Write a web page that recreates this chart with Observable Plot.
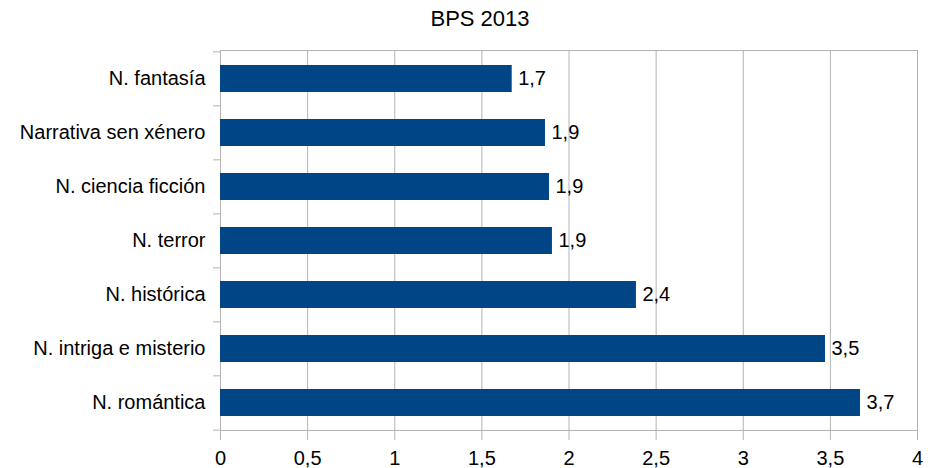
<!DOCTYPE html>
<html>
<head>
<meta charset="utf-8">
<script src="https://cdn.jsdelivr.net/npm/d3@7"></script>
<script src="https://cdn.jsdelivr.net/npm/@observablehq/plot@0.6"></script>
<style>
  body { margin: 0; background: #fff; font-family: "Liberation Sans", Arial, sans-serif; }
  #title { box-sizing: border-box; width: 936px; height: 36px; padding: 8px 0 6px 24px; line-height: 22px; text-align: center; font-size: 22px; color: #000; }
</style>
</head>
<body>
<div id="title"></div>
<div id="chart"></div>
<script>
const title = "BPS 2013";
const categories = ["N. fantasía", "Narrativa sen xénero", "N. ciencia ficción", "N. terror", "N. histórica", "N. intriga e misterio", "N. romántica"];
const values = [1.674, 1.865, 1.888, 1.905, 2.387, 3.472, 3.673];
const xTicks = [0, 0.5, 1, 1.5, 2, 2.5, 3, 3.5, 4];

document.getElementById("title").textContent = title;

const data = categories.map((c, i) => ({category: c, value: values[i]}));
const fmt = v => d3.format(".1f")(v).replace(".", ",");
const fmtTick = v => String(v).replace(".", ",");

const H = 432, mTop = 14, mBottom = 38;
const step = (H - mTop - mBottom) / categories.length;

const chart = Plot.plot({
  width: 936,
  height: H,
  marginTop: mTop,
  marginBottom: mBottom,
  marginLeft: 220,
  marginRight: 19,
  style: {fontFamily: "Liberation Sans, Arial, sans-serif", fontSize: "20px", color: "#000", background: "#fff", overflow: "visible"},
  x: {domain: [0, 4]},
  y: {domain: categories, padding: 0.5, paddingOuter: 0.25, align: 0.5},
  marks: [
    Plot.ruleX(xTicks, {stroke: "#b3b3b3", strokeOpacity: 1}),
    Plot.frame({stroke: "#b3b3b3"}),
    Plot.barX(data, {x: "value", y: "category", fill: "#004586"}),
    Plot.text(data, {x: "value", y: "category", text: d => fmt(d.value), textAnchor: "start", dx: 6, fill: "#000", fontSize: 20}),
    Plot.axisX({ticks: xTicks, tickFormat: fmtTick, tickSize: 10, tickPadding: 10, stroke: "#b3b3b3", strokeOpacity: 1, label: null, fontSize: 20, fill: "#000"}),
    Plot.axisY({tickSize: 0, tickPadding: 15, label: null, fontSize: 20, fill: "#000"}),
    Plot.axisY({tickSize: 7, text: null, dy: -step / 2, stroke: "#b3b3b3", strokeOpacity: 1, label: null}),
    Plot.axisY({ticks: [categories[categories.length - 1]], tickSize: 7, text: null, dy: step / 2, stroke: "#b3b3b3", strokeOpacity: 1, label: null})
  ]
});
document.getElementById("chart").appendChild(chart);
</script>
</body>
</html>
